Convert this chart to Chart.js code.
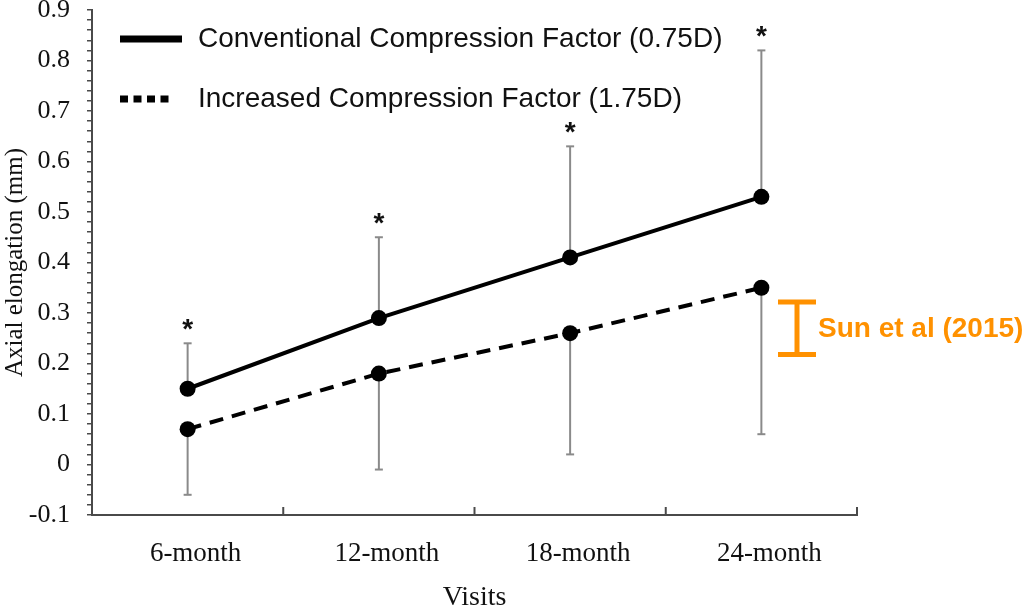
<!DOCTYPE html>
<html><head><meta charset="utf-8">
<script src="https://cdn.jsdelivr.net/npm/chart.js@4.4.1/dist/chart.umd.min.js"></script>
<style>html,body{margin:0;padding:0;background:#fff;}#wrap{width:1024px;height:612px;}</style>
</head><body><div id="wrap"><canvas id="c" width="1024" height="612"></canvas></div>
<script>
const categories = ['6-month', '12-month', '18-month', '24-month'];
const conventional = [0.15, 0.29, 0.41, 0.53];
const conventionalUpper = [0.24, 0.45, 0.63, 0.82];
const increased = [0.07, 0.18, 0.26, 0.35];
const increasedLower = [-0.06, -0.01, 0.02, 0.06];
const significant = [true, true, true, true];
const seriesNames = ['Conventional Compression Factor (0.75D)', 'Increased Compression Factor (1.75D)'];
const sunRange = [0.215, 0.325];
const sunLabel = 'Sun et al (2015)';
const yMin = -0.1, yMax = 0.9, yMinorStep = 0.02;
const yTitle = 'Axial elongation (mm)';
const xTitle = 'Visits';

const ORANGE = '#FF9100';
const AXIS = '#4a4a4a';
const ERR = '#8a8a8a';

const overlay = {
  id: 'overlay',
  beforeDatasetsDraw(chart) {
    const {ctx, scales: {x, y}} = chart;
    ctx.save();
    ctx.strokeStyle = ERR; ctx.lineWidth = 2;
    const seg = (x0, y0, x1, y1) => { ctx.beginPath(); ctx.moveTo(x0, y0); ctx.lineTo(x1, y1); ctx.stroke(); };
    categories.forEach((c, i) => {
      const px = x.getPixelForValue(i);
      const a = y.getPixelForValue(conventional[i]), b = y.getPixelForValue(conventionalUpper[i]);
      seg(px, a, px, b); seg(px - 4, b, px + 4, b);
      const d = y.getPixelForValue(increased[i]), e = y.getPixelForValue(increasedLower[i]);
      seg(px, d, px, e); seg(px - 4, e, px + 4, e);
    });
    ctx.restore();
  },
  afterDraw(chart) {
    const {ctx, scales: {x, y}, chartArea} = chart;
    ctx.save();
    // inward x ticks
    ctx.strokeStyle = AXIS; ctx.lineWidth = 2;
    for (let i = 0; i <= categories.length; i++) {
      let px;
      if (i === 0) px = chartArea.left;
      else if (i === categories.length) px = chartArea.right;
      else px = (x.getPixelForValue(i - 1) + x.getPixelForValue(i)) / 2;
      ctx.beginPath(); ctx.moveTo(px, chartArea.bottom); ctx.lineTo(px, chartArea.bottom - 8); ctx.stroke();
    }
    // asterisks
    ctx.fillStyle = '#111';
    ctx.font = 'bold 28px "Liberation Sans", Arial, sans-serif';
    ctx.textAlign = 'center'; ctx.textBaseline = 'alphabetic';
    categories.forEach((c, i) => {
      if (!significant[i]) return;
      const px = x.getPixelForValue(i);
      const top = y.getPixelForValue(conventionalUpper[i]);
      ctx.fillText('*', px, top - 5);
    });
    // Sun et al range bar
    const sx = chartArea.right - 60;
    const s0 = y.getPixelForValue(sunRange[0]), s1 = y.getPixelForValue(sunRange[1]);
    ctx.strokeStyle = ORANGE; ctx.lineWidth = 5; ctx.lineCap = 'butt';
    ctx.beginPath(); ctx.moveTo(sx, s0); ctx.lineTo(sx, s1); ctx.stroke();
    ctx.beginPath(); ctx.moveTo(sx - 19, s0 - 1.5); ctx.lineTo(sx + 19, s0 - 1.5); ctx.stroke();
    ctx.beginPath(); ctx.moveTo(sx - 19, s1 + 1.5); ctx.lineTo(sx + 19, s1 + 1.5); ctx.stroke();
    ctx.fillStyle = ORANGE;
    ctx.font = 'bold 28px "Liberation Sans", Arial, sans-serif';
    ctx.textAlign = 'left'; ctx.textBaseline = 'middle';
    ctx.fillText(sunLabel, sx + 21, (s0 + s1) / 2 + 1);
    // legend
    ctx.strokeStyle = '#000'; ctx.lineWidth = 7;
    ctx.beginPath(); ctx.moveTo(120, 39); ctx.lineTo(182, 39); ctx.stroke();
    ctx.setLineDash([8, 5.5]);
    ctx.beginPath(); ctx.moveTo(120, 99); ctx.lineTo(170, 99); ctx.stroke();
    ctx.setLineDash([]);
    ctx.fillStyle = '#111';
    ctx.font = '28px "Liberation Sans", Arial, sans-serif';
    ctx.textAlign = 'left'; ctx.textBaseline = 'middle';
    ctx.fillText(seriesNames[0], 198, 39);
    ctx.fillText(seriesNames[1], 198, 99);
    ctx.restore();
  }
};

new Chart(document.getElementById('c'), {
  type: 'line',
  data: {
    labels: categories,
    datasets: [
      { label: seriesNames[0], data: conventional, borderColor: '#000', backgroundColor: '#000',
        borderWidth: 4, pointRadius: 8, pointBackgroundColor: '#000', pointBorderWidth: 0, tension: 0, fill: false },
      { label: seriesNames[1], data: increased, borderColor: '#000', backgroundColor: '#000',
        borderWidth: 4, borderDash: [14, 9], pointRadius: 8, pointBackgroundColor: '#000', pointBorderWidth: 0, tension: 0, fill: false }
    ]
  },
  options: {
    responsive: false,
    animation: false,
    devicePixelRatio: 1,
    layout: { padding: { top: 10, right: 167, left: 0, bottom: 0 } },
    plugins: { legend: { display: false }, tooltip: { enabled: false } },
    scales: {
      x: {
        offset: true,
        grid: { display: true, drawOnChartArea: false, drawTicks: false, offset: true },
        border: { display: true, color: AXIS, width: 2 },
        ticks: { color: '#111', font: { family: '"Liberation Serif", "Times New Roman", serif', size: 27 }, padding: 23, labelOffset: 8, maxRotation: 0 },
        title: { display: true, text: xTitle, color: '#111', font: { family: '"Liberation Serif", "Times New Roman", serif', size: 28 }, padding: { top: 0, bottom: -2 } },
        afterFit(s) { s.height = 97; s.paddingLeft = 0; s.paddingRight = 0; }
      },
      y: {
        min: yMin, max: yMax,
        grid: { display: true, drawOnChartArea: false, drawTicks: true, tickLength: 5, color: AXIS, lineWidth: 1.5 },
        border: { display: true, color: AXIS, width: 2 },
        ticks: {
          stepSize: yMinorStep, autoSkip: false, padding: 17, color: '#111',
          font: { family: '"Liberation Serif", "Times New Roman", serif', size: 26 },
          callback(v) { const r = Math.round(v * 100); return r % 10 === 0 ? String(r / 100) : ''; }
        },
        title: { display: true, text: yTitle, color: '#111', font: { family: '"Liberation Serif", "Times New Roman", serif', size: 25 }, padding: { top: 0, bottom: 0 } },
        afterFit(s) { s.width = 92; s.paddingTop = 0; s.paddingBottom = 0; }
      }
    }
  },
  plugins: [overlay]
});
</script>
</body></html>
